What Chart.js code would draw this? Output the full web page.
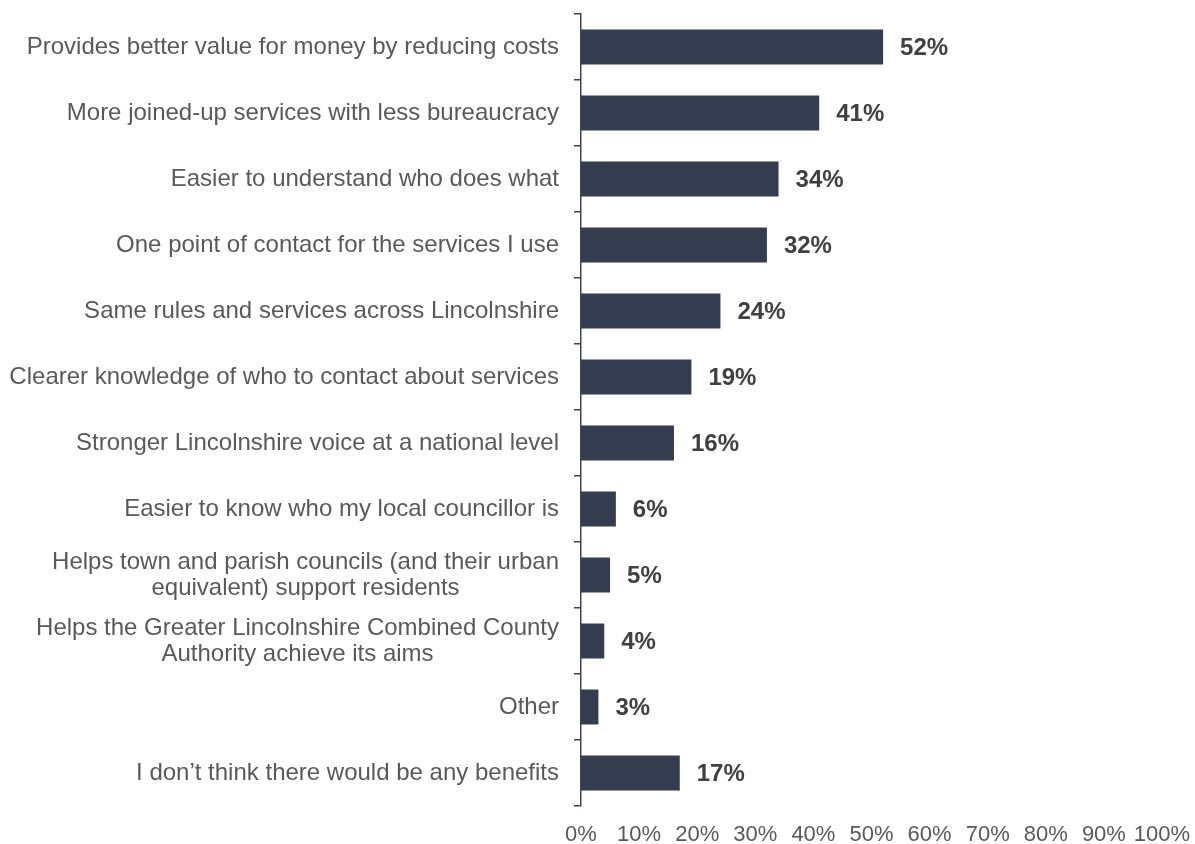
<!DOCTYPE html>
<html>
<head>
<meta charset="utf-8">
<script src="https://cdn.jsdelivr.net/npm/chart.js@4"></script>
<style>
  html, body { margin: 0; padding: 0; background: #ffffff; overflow: hidden; }
  #wrap { width: 1195px; height: 844px; position: relative; }
</style>
</head>
<body>
<div id="wrap"><canvas id="chart"></canvas></div>
<script>
// Perceived benefits of the proposal (% of respondents)
const categories = [
  "Provides better value for money by reducing costs",
  "More joined-up services with less bureaucracy",
  "Easier to understand who does what",
  "One point of contact for the services I use",
  "Same rules and services across Lincolnshire",
  "Clearer knowledge of who to contact about services",
  "Stronger Lincolnshire voice at a national level",
  "Easier to know who my local councillor is",
  ["Helps town and parish councils (and their urban", "equivalent) support residents"],
  ["Helps the Greater Lincolnshire Combined County", "Authority achieve its aims"],
  "Other",
  "I don\u2019t think there would be any benefits"
];
const values = [52, 41, 34, 32, 24, 19, 16, 6, 5, 4, 3, 17];
const xTickValues = [0, 10, 20, 30, 40, 50, 60, 70, 80, 90, 100];

const BAR = '#343d4f';
const AXIS = '#3b4457';
const TEXT = '#595959';
const FONT = "'Liberation Sans', Arial, sans-serif";
const LABEL_GAP = 22;     // from axis line to right edge of category text
const LINE_H = 26;

// Category names: right-aligned blocks, with wrapped lines centred inside each block
const categoryLabels = {
  id: 'categoryLabels',
  afterDraw(chart) {
    const { ctx } = chart;
    const ys = chart.scales.y;
    const right = ys.right - LABEL_GAP;
    ctx.save();
    ctx.font = "24px " + FONT;
    ctx.fillStyle = TEXT;
    ctx.textAlign = 'center';
    ctx.textBaseline = 'middle';
    categories.forEach((c, i) => {
      const lines = Array.isArray(c) ? c : [c];
      const w = Math.max(...lines.map(l => ctx.measureText(l).width));
      const cx = right - w / 2;
      const yc = ys.getPixelForValue(i);
      const y0 = yc - (lines.length - 1) * LINE_H / 2;
      lines.forEach((l, k) => ctx.fillText(l, cx, y0 + k * LINE_H));
    });
    ctx.restore();
  }
};

// Writes the bold percentage just past the end of each bar
const valueLabels = {
  id: 'valueLabels',
  afterDatasetsDraw(chart) {
    const { ctx } = chart;
    const meta = chart.getDatasetMeta(0);
    const xs = chart.scales.x;
    ctx.save();
    ctx.font = "bold 24px " + FONT;
    ctx.fillStyle = '#404040';
    ctx.textAlign = 'left';
    ctx.textBaseline = 'middle';
    meta.data.forEach((bar, i) => {
      const v = values[i];
      ctx.fillText(v + '%', xs.getPixelForValue(v) + 17, bar.y + 1);
    });
    ctx.restore();
  }
};

new Chart(document.getElementById('chart'), {
  type: 'bar',
  data: {
    labels: categories,
    datasets: [{
      data: values,
      backgroundColor: BAR,
      borderWidth: 0,
      categoryPercentage: 1,
      barPercentage: 0.53
    }]
  },
  options: {
    indexAxis: 'y',
    responsive: true,
    maintainAspectRatio: false,
    animation: false,
    layout: { padding: { top: 14, right: 33, left: 0, bottom: 0 } },
    plugins: { legend: { display: false }, tooltip: { enabled: false } },
    scales: {
      x: {
        min: 0,
        max: 100,
        afterBuildTicks(scale) {
          scale.ticks = xTickValues.map(v => ({ value: v }));
        },
        afterFit(scale) {
          scale.height = 38;
          scale.paddingLeft = 0;
          scale.paddingRight = 0;
        },
        grid: { display: false, drawTicks: false },
        border: { display: false },
        ticks: {
          padding: 16,
          color: TEXT,
          font: { family: FONT, size: 22 },
          maxRotation: 0,
          autoSkip: false,
          callback: v => v + '%'
        }
      },
      y: {
        afterFit(scale) {
          scale.width = 581;
          scale.paddingTop = 0;
          scale.paddingBottom = 0;
        },
        grid: {
          offset: true,
          drawOnChartArea: false,
          drawTicks: true,
          tickLength: 7,
          color: AXIS,
          lineWidth: 1.5
        },
        border: { display: true, color: AXIS, width: 1.5 },
        ticks: {
          display: false,
          autoSkip: false
        }
      }
    }
  },
  plugins: [valueLabels, categoryLabels]
});
</script>
</body>
</html>
